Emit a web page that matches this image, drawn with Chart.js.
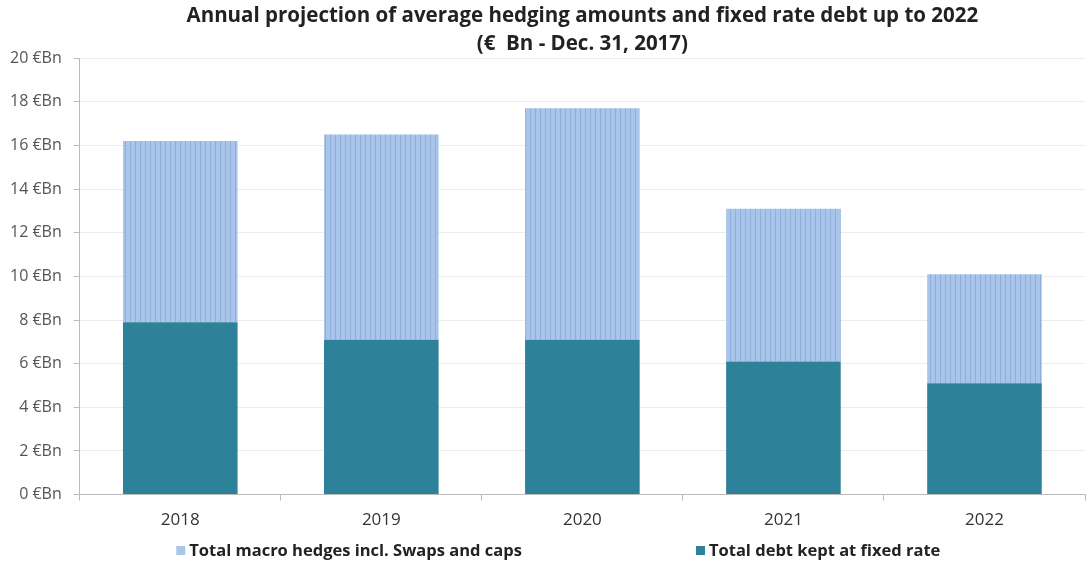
<!DOCTYPE html>
<html><head><meta charset="utf-8">
<script src="https://cdn.jsdelivr.net/npm/chart.js@4.4.1/dist/chart.umd.min.js"></script>
<style>html,body{margin:0;padding:0;background:#fff;}#wrap{width:1089px;height:566px;position:relative;}</style>
</head><body><div id="wrap"><canvas id="c" width="1089" height="566"></canvas></div>
<script>
const categories = ["2018","2019","2020","2021","2022"];
const fixedDebt = [7.9, 7.1, 7.1, 6.1, 5.1];
const macroHedges = [8.3, 9.4, 10.6, 7.0, 5.0];
const yTicks = [0,2,4,6,8,10,12,14,16,18,20];
const seriesNames = ["Total macro hedges incl. Swaps and caps","Total debt kept at fixed rate"];
const titleLines = ["Annual projection of average hedging amounts and fixed rate debt up to 2022","(€  Bn - Dec. 31, 2017)"];

const LIGHT='#a9c5ea', STRIPE='#8eaedb', TEAL='#2d8199';
function stripe(){
  const p=document.createElement('canvas');p.width=5;p.height=4;
  const x=p.getContext('2d');x.fillStyle=LIGHT;x.fillRect(0,0,5,4);
  x.fillStyle=STRIPE;x.fillRect(0,0,1,4);
  return x.createPattern(p,'repeat');
}
const legendPlugin={
  id:'spreadLegend',
  afterDraw(chart){
    const c=chart.ctx, a=chart.chartArea, w=a.right-a.left;
    const items=[{t:seriesNames[0],col:LIGHT,f:0.096},{t:seriesNames[1],col:TEAL,f:0.613}];
    const y=551;
    c.save();
    c.font='bold 16.5px "Open Sans"';c.textBaseline='middle';c.textAlign='left';
    items.forEach(it=>{
      const x=a.left+w*it.f;
      c.fillStyle=it.col;c.fillRect(x,y-5,9,9);
      c.fillStyle='#222';c.fillText(it.t,x+13,y);
    });
    c.restore();
  }
};
const ctx=document.getElementById('c').getContext('2d');
new Chart(ctx,{
  type:'bar',
  data:{labels:categories,datasets:[
    {label:seriesNames[1],data:fixedDebt,backgroundColor:TEAL,stack:'s'},
    {label:seriesNames[0],data:macroHedges,backgroundColor:stripe(),stack:'s'}
  ]},
  options:{
    responsive:false,animation:false,
    layout:{padding:{left:-2,right:4,top:0,bottom:27}},
    datasets:{bar:{categoryPercentage:0.57,barPercentage:1}},
    plugins:{
      title:{display:true,fullSize:false,text:titleLines,color:'#222',font:{family:'Open Sans',size:20.5,weight:'bold',lineHeight:1.37},padding:{top:2,bottom:0}},
      legend:{display:false},
      tooltip:{enabled:false}
    },
    scales:{
      x:{stacked:true,offset:true,grid:{display:true,drawOnChartArea:false,offset:true,tickLength:6,color:'#bbb'},border:{color:'#bbb'},
        ticks:{color:'#333',font:{family:'Open Sans',size:17},padding:9}},
      y:{stacked:true,min:0,max:20,afterBuildTicks:(a)=>{a.ticks=yTicks.map(v=>({value:v}));},
        grid:{color:'#ececec',tickLength:6,tickColor:'#bbb'},border:{color:'#bbb'},
        ticks:{color:'#555',font:{family:'Open Sans',size:16},padding:12,callback:(v)=>v+' €Bn'}}
    }
  },
  plugins:[legendPlugin]
});
</script></body></html>
